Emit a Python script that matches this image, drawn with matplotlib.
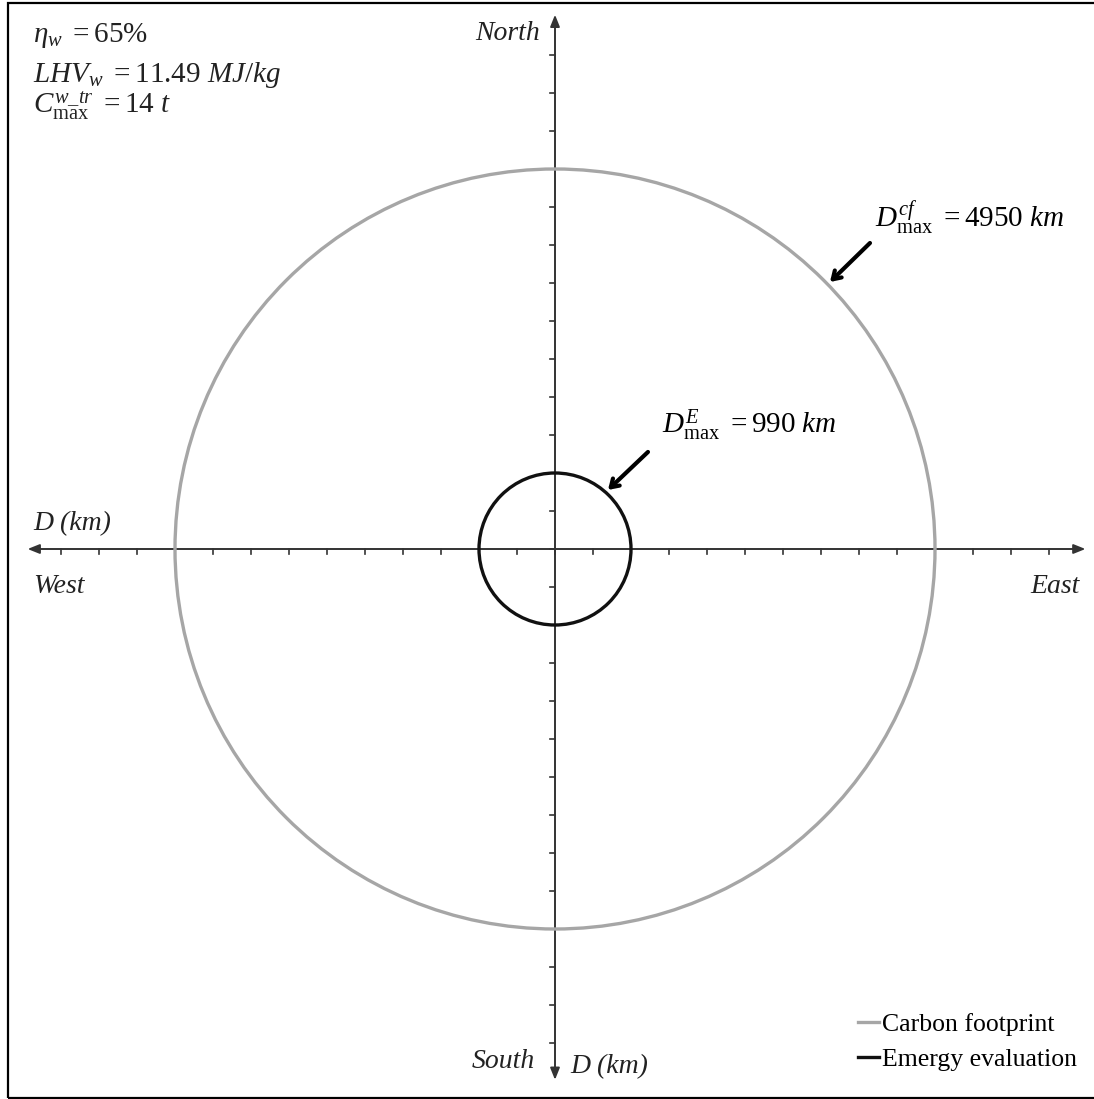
import numpy as np
import matplotlib.pyplot as plt
from matplotlib.patches import Circle, Rectangle
from matplotlib.lines import Line2D

plt.rcParams['font.family'] = 'Liberation Serif'
plt.rcParams['mathtext.fontset'] = 'custom'
plt.rcParams['mathtext.rm'] = 'Liberation Serif'
plt.rcParams['mathtext.it'] = 'Liberation Serif:italic'
plt.rcParams['mathtext.bf'] = 'Liberation Serif:bold'

# maximum transport distances (km)
series_names = ['Carbon footprint', 'Emergy evaluation']
radii_km = [4950, 990]
series_colors = ['#a6a6a6', '#111111']

tick_step = 495        # km between tick marks
n_ticks = 13           # ticks on each half-axis
axis_extent = 6900     # half-length of the axes (km)

# figure is laid out in km, centre of the compass at the origin
km_per_px = tick_step / 38.0
W, H = 1094, 1099
cx, cy = 555, 549

fig = plt.figure(figsize=(W / 100, H / 100), dpi=100)
ax = fig.add_axes([0, 0, 1, 1])
ax.set_xlim(-cx * km_per_px, (W - cx) * km_per_px)
ax.set_ylim(-(H - cy) * km_per_px, cy * km_per_px)
ax.set_aspect('equal')
ax.axis('off')

# frame around the figure
fig.patches.append(Rectangle((8 / W, 1.5 / H), 1.2, (1097 - 2) / H,
                             transform=fig.transFigure, fill=False,
                             edgecolor='black', linewidth=1.6))

axis_col = '#333333'
# E-W and N-S axes with arrow heads at both ends
ax.annotate('', xy=(axis_extent + 10, 0), xytext=(-axis_extent + 30, 0),
            arrowprops=dict(arrowstyle='<|-|>,head_length=0.7,head_width=0.28',
                            color=axis_col, lw=1.4, shrinkA=0, shrinkB=0))
ax.annotate('', xy=(0, axis_extent + 60), xytext=(0, -axis_extent - 15),
            arrowprops=dict(arrowstyle='<|-|>,head_length=0.7,head_width=0.28',
                            color=axis_col, lw=1.4, shrinkA=0, shrinkB=0))

ticks = np.arange(-n_ticks, n_ticks + 1) * tick_step
tick_len = 5 * km_per_px
for t in ticks:
    ax.plot([t, t], [0, -tick_len], color=axis_col, lw=1.2)
    ax.plot([0, -tick_len], [t, t], color=axis_col, lw=1.2)

# distance circles
for r, c in zip(radii_km, series_colors):
    ax.add_patch(Circle((0, 0), r, fill=False, edgecolor=c, lw=2.4, zorder=3))

# direction labels
lab = dict(fontsize=20, style='italic', color='#222222')
ax.text(-195, 6630, 'North', ha='right', va='baseline', **lab)
ax.text(-6800, -573, 'West', ha='left', va='baseline', **lab)
ax.text(6839, -573, 'East', ha='right', va='baseline', **lab)
ax.text(-261, -6760, 'South', ha='right', va='baseline', **lab)
ax.text(-6800, 247, 'D (km)', ha='left', va='baseline', **lab)
ax.text(200, -6830, 'D (km)', ha='left', va='baseline', **lab)

# parameters
par = dict(fontsize=21, ha='left', va='baseline', color='#222222')
ax.text(-6800, 6600, r'$\eta_w\ = \mathrm{65\%}$', **par)
ax.text(-6800, 6083, r'$LHV_w\ = \mathrm{11.49}\ MJ/kg$', **par)
ax.text(-6800, 5680, r'$C^{w\_tr}_{\mathrm{max}}\ = \mathrm{14}\ t$', **par)

# pointers to the circles
arr = dict(arrowstyle='->,head_length=0.55,head_width=0.35', color='black', lw=3,
           shrinkA=0, shrinkB=0)
ax.annotate('', xy=(3582, 3478), xytext=(4103, 3986), arrowprops=arr)
ax.annotate('', xy=(690, 769), xytext=(1211, 1264), arrowprops=arr)
ax.text(4168, 4194, r'$D^{cf}_{\mathrm{max}}\ = \mathrm{%d}\ km$' % radii_km[0],
        fontsize=21, ha='left', va='baseline')
ax.text(1394, 1511, r'$D^{E}_{\mathrm{max}}\ = \mathrm{%d}\ km$' % radii_km[1],
        fontsize=21, ha='left', va='baseline')

handles = [Line2D([], [], color=c, lw=2.4) for c in series_colors]
ax.legend(handles, series_names, loc='lower right', bbox_to_anchor=(1.006, 0.004),
          frameon=False, fontsize=18.5, handlelength=0.8, handletextpad=0.15,
          labelspacing=0.5)

fig.savefig('out.png', dpi=100)
